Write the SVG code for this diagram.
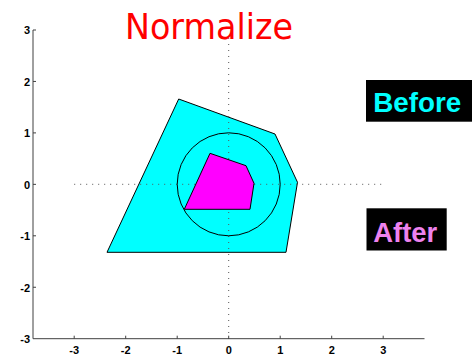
<svg xmlns="http://www.w3.org/2000/svg" width="476" height="357" viewBox="0 0 476 357">
<style>
.ax{stroke:#404040;stroke-width:1;fill:none}
.tk{font-family:"Liberation Sans",Arial,sans-serif;font-weight:bold;font-size:11px;fill:#000}
.dot{stroke:#555;stroke-width:1;stroke-dasharray:1 5;fill:none}
.shape{stroke:#000;stroke-width:1}
.lbl{font-family:"Liberation Sans",Arial,sans-serif;font-weight:bold;font-size:28px}
</style>
<rect width="476" height="357" fill="#fff"/>
<g id="cyan-polygon">
<polygon class="shape" fill="#00ffff" points="178.7,99 275,134 297.5,182.3 286,252.3 107,252.3"/>
</g>
<g id="guides">
<line class="dot" x1="228.7" y1="38" x2="228.7" y2="338.7"/>
<line class="dot" x1="74.2" y1="184.3" x2="383.2" y2="184.3"/>
</g>
<g id="unit-circle">
<circle class="shape" fill="none" cx="228.7" cy="184.3" r="51.5"/>
</g>
<g id="magenta-polygon">
<polygon class="shape" fill="#ff00ff" points="210,153.3 246,165.7 254,183.3 250,209.3 184.3,209.3"/>
</g>
<g id="axes">
<line class="ax" x1="33" y1="30" x2="33" y2="338.7"/>
<line class="ax" x1="33" y1="338.7" x2="424.5" y2="338.7"/>
<path class="ax" d="M33,30h3M33,81.45h3M33,132.9h3M33,184.35h3M33,235.8h3M33,287.25h3M74.2,338.7v-3M125.7,338.7v-3M177.2,338.7v-3M228.7,338.7v-3M280.2,338.7v-3M331.7,338.7v-3M383.2,338.7v-3"/>
<g class="tk" text-anchor="end">
<text x="30" y="34">3</text>
<text x="30" y="85.5">2</text>
<text x="30" y="137">1</text>
<text x="30" y="188.5">0</text>
<text x="30" y="240">-1</text>
<text x="30" y="291.5">-2</text>
<text x="30" y="343">-3</text>
</g>
<g class="tk" text-anchor="middle">
<text x="74.2" y="354">-3</text>
<text x="125.7" y="354">-2</text>
<text x="177.2" y="354">-1</text>
<text x="228.7" y="354">0</text>
<text x="280.2" y="354">1</text>
<text x="331.7" y="354">2</text>
<text x="383.2" y="354">3</text>
</g>
</g>
<g id="title">
<text x="125" y="38.5" textLength="168" lengthAdjust="spacingAndGlyphs" font-family="'DejaVu Sans',sans-serif" font-size="36" fill="#ff0000">Normalize</text>
</g>
<g id="before-label">
<rect x="366" y="80" width="106" height="41.7" fill="#000"/>
<text class="lbl" x="373.3" y="112.3" fill="#00ffff" textLength="88" lengthAdjust="spacingAndGlyphs">Before</text>
</g>
<g id="after-label">
<rect x="366.5" y="208.3" width="80.2" height="42.2" fill="#000"/>
<text class="lbl" x="373.3" y="241.5" fill="#ee82ee" textLength="64" lengthAdjust="spacingAndGlyphs">After</text>
</g>
</svg>
